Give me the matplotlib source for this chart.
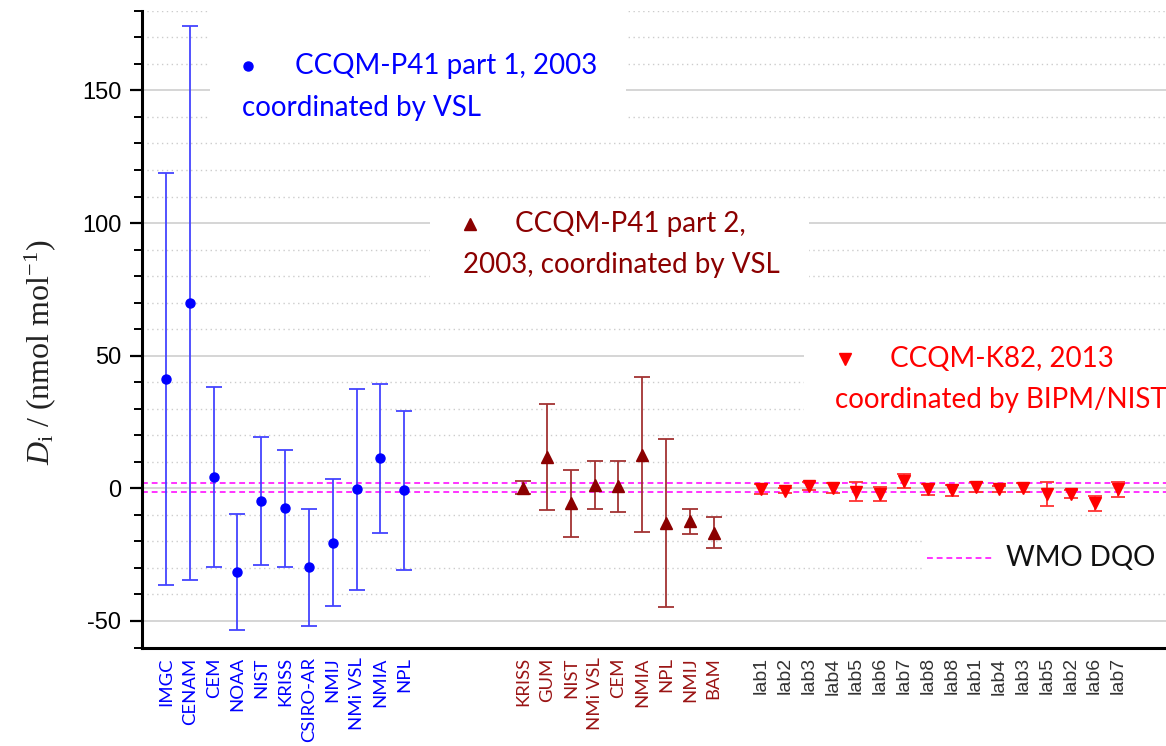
import numpy as np
import matplotlib
matplotlib.use("Agg")
import matplotlib.pyplot as plt
from matplotlib.patches import Rectangle
from matplotlib.ticker import MultipleLocator

# Data (nmol/mol)
blue_labels = ['IMGC', 'CENAM', 'CEM', 'NOAA', 'NIST', 'KRISS', 'CSIRO-AR', 'NMIJ', 'NMi VSL', 'NMIA', 'NPL']
blue_vals = [41.2, 70.0, 4.3, -31.5, -4.7, -7.5, -29.8, -20.5, -0.4, 11.3, -0.7]
blue_errs = [77.5, 104.4, 34.0, 21.9, 24.1, 22.0, 22.0, 23.9, 37.9, 28.0, 29.9]

maroon_labels = ['KRISS', 'GUM', 'NIST', 'NMi VSL', 'CEM', 'NMIA', 'NPL', 'NMIJ', 'BAM']
maroon_vals = [0.2, 11.8, -5.7, 1.4, 0.8, 12.7, -13.0, -12.4, -16.7]
maroon_errs = [2.4, 20.0, 12.6, 9.0, 9.6, 29.1, 31.6, 4.7, 5.8]

red_labels = ['lab1', 'lab2', 'lab3', 'lab4', 'lab5', 'lab6', 'lab7', 'lab8',
              'lab8', 'lab1', 'lab4', 'lab3', 'lab5', 'lab2', 'lab6', 'lab7']
red_vals = [-0.3, -0.9, 0.9, 0.1, -1.2, -2.2, 2.7, -0.3, -0.7, 0.5, -0.3, 0.3, -2.2, -2.0, -5.6, -0.4]
red_errs = [1.8, 1.0, 1.5, 1.8, 3.6, 2.6, 2.7, 2.1, 2.1, 2.0, 1.2, 1.8, 4.5, 1.5, 2.8, 2.7]

dqo_limits = [2.0, -1.5]

# x positions: groups separated by empty slots
x_blue = np.arange(0, 11)
x_maroon = np.arange(15, 24)
x_red = np.arange(25, 41)

BLUE = '#0000ff'
MAROON = '#8b0000'
RED = '#ff0000'
PINK = '#ff33ff'

plt.rcParams['axes.unicode_minus'] = False
plt.rcParams['mathtext.fontset'] = 'custom'
plt.rcParams['mathtext.rm'] = 'Liberation Serif'
plt.rcParams['mathtext.it'] = 'Liberation Serif:italic'

fig = plt.figure(figsize=(11.66, 7.46), dpi=100)
ax = fig.add_axes([0.122, 0.132, 0.878, 0.8535])
ax.set_xlim(-1, 42)
ax.set_ylim(-60, 180)

# grid
ax.set_axisbelow(True)
ax.yaxis.set_major_locator(MultipleLocator(50))
ax.yaxis.set_minor_locator(MultipleLocator(10))
ax.grid(True, which='major', axis='y', color='#d2d2d2', lw=1.3)
ax.grid(True, which='minor', axis='y', color='#cccccc', lw=1.0, ls=(0, (1, 2.5)))

# white boxes behind the annotations (they hide the grid)
for (x0, x1, y0, y1) in [(1.85, 19.3, 133, 180), (11.1, 27.0, 72, 108),
                         (26.8, 42, 22, 57), (31.8, 42, -35, -15)]:
    ax.add_patch(Rectangle((x0, y0), x1 - x0, y1 - y0, facecolor='white',
                           edgecolor='none', zorder=0.8))

for y in dqo_limits:
    ax.axhline(y, color=PINK, ls=(0, (3, 2)), lw=1.4, zorder=1.5)

ax.errorbar(x_blue, blue_vals, yerr=blue_errs, fmt='o', color=BLUE, ms=6.5,
            ecolor='#4444ff', elinewidth=1.3, capsize=5.5, capthick=1.3, zorder=3)
ax.errorbar(x_maroon, maroon_vals, yerr=maroon_errs, fmt='^', color=MAROON, ms=8,
            ecolor='#a33333', elinewidth=1.3, capsize=5.5, capthick=1.3, zorder=3)
ax.errorbar(x_red, red_vals, yerr=red_errs, fmt='v', color=RED, ms=8,
            ecolor='#ff3333', elinewidth=1.3, capsize=5.0, capthick=1.3, zorder=3)

# annotations
tfont = dict(family='Lato', fontsize=20)
ax.plot([3.45], [159.2], 'o', color=BLUE, ms=6.5, zorder=3)
ax.text(5.42, 159.2, 'CCQM-P41 part 1, 2003', color=BLUE, va='center', **tfont)
ax.text(3.19, 143.3, 'coordinated by VSL', color=BLUE, va='center', **tfont)

ax.plot([12.77], [99.5], '^', color=MAROON, ms=8, zorder=3)
ax.text(14.66, 99.5, 'CCQM-P41 part 2,', color=MAROON, va='center', **tfont)
ax.text(12.47, 84.2, '2003, coordinated by VSL', color=MAROON, va='center', **tfont)

ax.plot([28.53], [48.6], 'v', color=RED, ms=8, zorder=3)
ax.text(30.42, 48.6, 'CCQM-K82, 2013', color=RED, va='center', **tfont)
ax.text(28.1, 33.3, 'coordinated by BIPM/NIST', color=RED, va='center', **tfont)

ax.plot([31.95, 34.8], [-26.2, -26.2], color=PINK, ls=(0, (3, 2)), lw=1.4)
ax.text(35.3, -26.2, 'WMO DQO', color='#111111', va='center', **tfont)

# axes styling
for s in ['top', 'right']:
    ax.spines[s].set_visible(False)
ax.spines['left'].set_linewidth(2.2)
ax.spines['bottom'].set_linewidth(2.2)
ax.tick_params(axis='y', which='major', direction='out', length=9, width=1.6,
               labelsize=17, pad=6)
ax.tick_params(axis='y', which='minor', direction='out', length=6, width=1.4)
for lab in ax.get_yticklabels():
    lab.set_family('Liberation Sans')

xt = list(x_blue) + list(x_maroon) + list(x_red)
xl = blue_labels + maroon_labels + red_labels
ax.set_xticks(xt)
ax.set_xticklabels(xl, rotation=90)
ax.tick_params(axis='x', length=0, pad=7)
colors = [BLUE] * len(blue_labels) + ['#9a1414'] * len(maroon_labels) + ['#333333'] * len(red_labels)
for i, lab in enumerate(ax.get_xticklabels()):
    lab.set_color(colors[i])
    if i < len(blue_labels) + len(maroon_labels):
        lab.set_family('Lato')
        lab.set_fontsize(13.3)
    else:
        lab.set_family('Liberation Sans')
        lab.set_fontsize(14)

fig.text(0.034, 0.528, r'$D_\mathrm{i}$ / (nmol mol$^{-1}$)', rotation=90,
         ha='center', va='center', fontsize=23, family='Liberation Serif', color='#222222')

fig.savefig('out.png', dpi=100)
